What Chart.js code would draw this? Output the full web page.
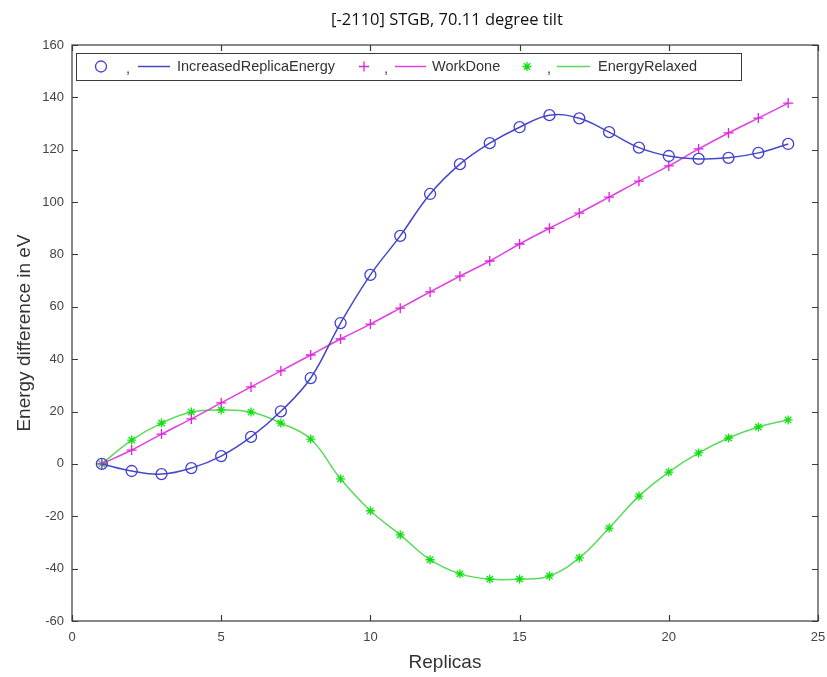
<!DOCTYPE html>
<html>
<head>
<meta charset="utf-8">
<title>[-2110] STGB, 70.11 degree tilt</title>
<script src="https://cdn.jsdelivr.net/npm/chart.js@4/dist/chart.umd.min.js"></script>
<style>
  html, body { margin: 0; padding: 0; background: #fff; }
  #wrap { width: 827px; height: 677px; }
</style>
</head>
<body>
<div id="wrap"><canvas id="chart" width="827" height="677"></canvas></div>
<script>
// replica index along the path
const replicas = [1, 2, 3, 4, 5, 6, 7, 8, 9, 10, 11, 12, 13, 14, 15, 16, 17, 18, 19, 20, 21, 22, 23, 24];

// energies in eV
const increasedReplicaEnergy = [0, -2.7, -3.9, -1.6, 3.0, 10.3, 20.1, 32.8, 53.8, 72.2, 87.1, 103.1,
    114.5, 122.5, 128.6, 133.2, 132.0, 126.7, 120.8, 117.6, 116.5, 116.9, 118.8, 122.2];
const workDone = [0, 5.3, 11.4, 17.2, 23.3, 29.4, 35.5, 41.6, 47.7, 53.4, 59.5, 65.7,
    71.7, 77.5, 84.0, 90.0, 95.8, 101.9, 108.0, 113.8, 120.3, 126.4, 132.1, 137.8];
const energyRelaxed = [0, 9.1, 15.6, 19.8, 20.6, 19.8, 15.6, 9.5, -5.7, -17.9, -27.1, -36.6,
    -42.0, -44.0, -44.0, -42.8, -35.9, -24.5, -12.3, -3.1, 4.2, 9.9, 14.1, 16.8];

const xTicks = [0, 5, 10, 15, 20, 25];
const yTicks = [-60, -40, -20, 0, 20, 40, 60, 80, 100, 120, 140, 160];

const titleText = '[-2110] STGB, 70.11 degree tilt';
const axisColor = '#3a3a3a';

function toPoints(values) {
    return values.map((v, i) => ({ x: replicas[i], y: v }));
}

// MATLAB-like box with inward ticks on all four sides, plus the title
const boxPlugin = {
    id: 'boxAxes',
    afterDraw(chart) {
        const { ctx, chartArea: a, scales: { x, y } } = chart;
        const len = 6;
        ctx.save();
        ctx.strokeStyle = axisColor;
        ctx.lineWidth = 1.2;
        ctx.strokeRect(a.left, a.top, a.right - a.left, a.bottom - a.top);
        ctx.beginPath();
        xTicks.forEach(t => {
            const px = Math.round(x.getPixelForValue(t)) + 0.5;
            ctx.moveTo(px, a.bottom); ctx.lineTo(px, a.bottom - len);
            ctx.moveTo(px, a.top); ctx.lineTo(px, a.top + len);
        });
        yTicks.forEach(t => {
            const py = Math.round(y.getPixelForValue(t)) + 0.5;
            ctx.moveTo(a.left, py); ctx.lineTo(a.left + len, py);
            ctx.moveTo(a.right, py); ctx.lineTo(a.right - len, py);
        });
        ctx.stroke();

        ctx.fillStyle = '#111';
        ctx.font = '16.5px "Open Sans"';
        ctx.textAlign = 'center';
        ctx.textBaseline = 'middle';
        ctx.fillText(titleText, (a.left + a.right) / 2 + 2, 20);
        ctx.restore();
    }
};

// legend row: marker , line label  (one group per dataset)
const legendPlugin = {
    id: 'matlabLegend',
    afterDraw(chart) {
        const { ctx } = chart;
        const box = { x: 76, y: 53, w: 665, h: 27 };
        const cy = box.y + box.h / 2;
        const groups = [
            { marker: 101, comma: 128, line: [138, 170], text: 177 },
            { marker: 364, comma: 386, line: [395, 426], text: 432 },
            { marker: 527, comma: 549, line: [557, 590], text: 598 }
        ];
        ctx.save();
        ctx.fillStyle = '#fff';
        ctx.fillRect(box.x, box.y, box.w, box.h);
        ctx.strokeStyle = axisColor;
        ctx.lineWidth = 1;
        ctx.strokeRect(box.x + 0.5, box.y + 0.5, box.w, box.h);
        chart.data.datasets.forEach((ds, i) => {
            const g = groups[i];
            ctx.strokeStyle = ds.pointBorderColor;
            ctx.fillStyle = 'rgba(0,0,0,0)';
            ctx.lineWidth = ds.pointBorderWidth;
            Chart.helpers.drawPoint(ctx, {
                pointStyle: ds.pointStyle, radius: ds.pointRadius, rotation: 0, borderWidth: ds.pointBorderWidth
            }, g.marker, cy);
            ctx.fillStyle = '#333';
            ctx.font = '14.5px "Liberation Sans"';
            ctx.textBaseline = 'middle';
            ctx.textAlign = 'center';
            ctx.fillText(',', g.comma, cy + 2);
            ctx.strokeStyle = ds.borderColor;
            ctx.lineWidth = 1.5;
            ctx.beginPath();
            ctx.moveTo(g.line[0], cy); ctx.lineTo(g.line[1], cy);
            ctx.stroke();
            ctx.textAlign = 'left';
            ctx.fillText(ds.label, g.text, cy);
        });
        ctx.restore();
    }
};

function series(label, values, line, marker, style, radius) {
    return {
        label: label,
        data: toPoints(values),
        borderColor: line,
        borderWidth: 1.5,
        backgroundColor: 'rgba(0,0,0,0)',
        pointStyle: style,
        pointRadius: radius,
        pointBorderColor: marker,
        pointBackgroundColor: 'rgba(0,0,0,0)',
        pointBorderWidth: 1.3,
        tension: 0.4,
        fill: false
    };
}

new Chart(document.getElementById('chart'), {
    type: 'line',
    data: {
        datasets: [
            series('IncreasedReplicaEnergy', increasedReplicaEnergy, '#4646c8', '#4040d0', 'circle', 5.5),
            series('WorkDone', workDone, '#e040e0', '#e020e0', 'cross', 5),
            series('EnergyRelaxed', energyRelaxed, '#5ada5a', '#10e010', 'star', 4.5)
        ]
    },
    options: {
        responsive: false,
        animation: false,
        layout: { padding: { top: 45, right: 9, left: 0, bottom: 0 } },
        plugins: {
            legend: { display: false },
            title: { display: false },
            tooltip: { enabled: false }
        },
        scales: {
            x: {
                type: 'linear',
                min: 0,
                max: 25,
                afterBuildTicks: s => { s.ticks = xTicks.map(v => ({ value: v })); },
                afterFit: s => { s.height = 56; s.paddingLeft = 0; s.paddingRight = 0; },
                grid: { display: false, drawTicks: false },
                border: { display: false },
                ticks: { padding: 9, color: '#444', font: { family: 'Liberation Sans', size: 13 } },
                title: {
                    display: true,
                    text: 'Replicas',
                    color: '#333',
                    font: { family: 'Liberation Sans', size: 19 },
                    padding: { top: 0, bottom: 3 }
                }
            },
            y: {
                min: -60,
                max: 160,
                afterBuildTicks: s => { s.ticks = yTicks.map(v => ({ value: v })); },
                afterFit: s => { s.width = 72; s.paddingTop = 0; s.paddingBottom = 0; },
                grid: { display: false, drawTicks: false },
                border: { display: false },
                ticks: { padding: 8, color: '#444', font: { family: 'Liberation Sans', size: 13 } },
                title: {
                    display: true,
                    text: 'Energy difference in eV',
                    color: '#333',
                    font: { family: 'Liberation Sans', size: 19 },
                    padding: { top: 13, bottom: 0 }
                }
            }
        }
    },
    plugins: [boxPlugin, legendPlugin]
});
</script>
</body>
</html>
